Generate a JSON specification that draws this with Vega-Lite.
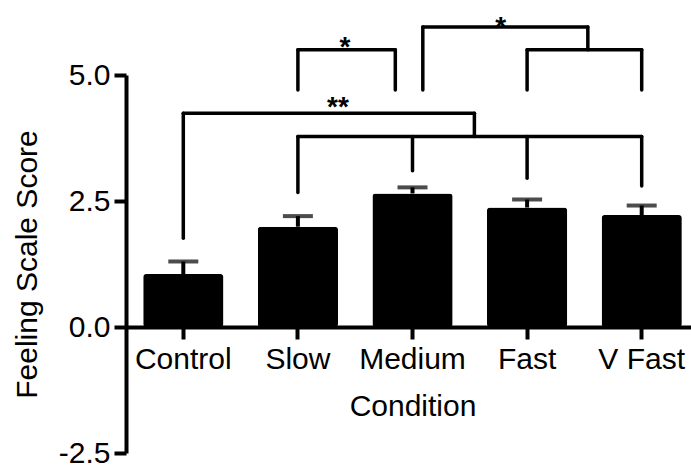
{
  "$schema": "https://vega.github.io/schema/vega-lite/v6.json",
  "width": 565,
  "height": 378,
  "autosize": {"type": "none"},
  "padding": {"left": 126, "top": 75, "right": 0, "bottom": 12},
  "background": "white",
  "config": {
    "view": {"stroke": null},
    "font": "Liberation Sans",
    "text": {"font": "Liberation Sans"},
    "axis": {"labelFont": "Liberation Sans", "titleFont": "Liberation Sans", "labelColor": "black", "titleColor": "black", "domainColor": "black", "tickColor": "black", "grid": false}
  },
  "datasets": {
    "bars": [
      {"Condition": "Control", "Mean": 1.05, "Upper": 1.30},
      {"Condition": "Slow", "Mean": 1.99, "Upper": 2.20},
      {"Condition": "Medium", "Mean": 2.65, "Upper": 2.77},
      {"Condition": "Fast", "Mean": 2.37, "Upper": 2.53},
      {"Condition": "V Fast", "Mean": 2.22, "Upper": 2.41}
    ],
    "brackets": [
      {"x": 1.5, "x2": 1.5, "y": 4.70, "y2": 5.50},
      {"x": 1.5, "x2": 2.35, "y": 5.50, "y2": 5.50},
      {"x": 2.35, "x2": 2.35, "y": 4.70, "y2": 5.50},
      {"x": 2.59, "x2": 2.59, "y": 4.70, "y2": 5.95},
      {"x": 2.59, "x2": 4.03, "y": 5.95, "y2": 5.95},
      {"x": 4.03, "x2": 4.03, "y": 5.50, "y2": 5.95},
      {"x": 3.5, "x2": 4.5, "y": 5.50, "y2": 5.50},
      {"x": 3.5, "x2": 3.5, "y": 4.70, "y2": 5.50},
      {"x": 4.5, "x2": 4.5, "y": 4.70, "y2": 5.50},
      {"x": 0.5, "x2": 0.5, "y": 1.76, "y2": 4.24},
      {"x": 0.5, "x2": 3.04, "y": 4.24, "y2": 4.24},
      {"x": 3.04, "x2": 3.04, "y": 3.78, "y2": 4.24},
      {"x": 1.5, "x2": 4.5, "y": 3.78, "y2": 3.78},
      {"x": 1.5, "x2": 1.5, "y": 2.67, "y2": 3.78},
      {"x": 2.5, "x2": 2.5, "y": 3.10, "y2": 3.78},
      {"x": 3.5, "x2": 3.5, "y": 2.95, "y2": 3.78},
      {"x": 4.5, "x2": 4.5, "y": 2.80, "y2": 3.78}
    ],
    "stars": [
      {"x": 1.91, "y": 5.37, "label": "*"},
      {"x": 3.27, "y": 5.77, "label": "*"},
      {"x": 1.85, "y": 4.19, "label": "**"}
    ]
  },
  "layer": [
    {
      "data": {"name": "bars"},
      "encoding": {
        "x": {
          "field": "Condition", "type": "nominal", "sort": null,
          "scale": {"range": [0, 573], "paddingInner": 0.3, "paddingOuter": 0.15},
          "axis": {
            "title": "Condition", "labelAngle": 0, "offset": -126,
            "labelFontSize": 30, "titleFontSize": 30, "titleFontWeight": "normal",
            "tickSize": 12, "tickWidth": 4, "domainWidth": 4, "labelPadding": 5, "titlePadding": 17
          }
        }
      },
      "layer": [
        {
          "mark": {"type": "bar", "color": "black", "cornerRadius": 3},
          "encoding": {
            "y": {
              "field": "Mean", "type": "quantitative",
              "scale": {"domain": [-2.5, 5], "nice": false, "zero": false},
              "axis": {
                "title": "Feeling Scale Score", "values": [-2.5, 0, 2.5, 5],
                "labelExpr": "(datum.value < 0 ? '-' : '') + format(abs(datum.value), '.1f')",
                "labelFontSize": 30, "titleFontSize": 30, "titleFontWeight": "normal",
                "tickSize": 12, "tickWidth": 4, "domainWidth": 4, "labelPadding": 4, "titlePadding": 16
              }
            }
          }
        },
        {
          "mark": {"type": "rule", "color": "black", "strokeWidth": 4},
          "encoding": {
            "y": {"field": "Mean", "type": "quantitative"},
            "y2": {"field": "Upper"}
          }
        },
        {
          "mark": {"type": "tick", "color": "black", "size": 30, "thickness": 4, "orient": "horizontal"},
          "encoding": {
            "y": {"field": "Upper", "type": "quantitative"}
          }
        }
      ]
    },
    {
      "layer": [
        {
          "data": {"name": "brackets"},
          "mark": {"type": "rule", "color": "black", "strokeWidth": 3.5, "strokeCap": "round"},
          "encoding": {
            "x": {"field": "x", "type": "quantitative", "scale": {"domain": [0, 5], "range": [0, 573], "nice": false, "zero": false}, "axis": null},
            "x2": {"field": "x2"},
            "y": {"field": "y", "type": "quantitative"},
            "y2": {"field": "y2"}
          }
        },
        {
          "data": {"name": "stars"},
          "mark": {"type": "text", "color": "black", "fontSize": 28, "fontWeight": "bold", "baseline": "alphabetic", "align": "center"},
          "encoding": {
            "x": {"field": "x", "type": "quantitative"},
            "y": {"field": "y", "type": "quantitative"},
            "text": {"field": "label"}
          }
        }
      ]
    }
  ],
  "resolve": {"scale": {"x": "independent"}}
}
